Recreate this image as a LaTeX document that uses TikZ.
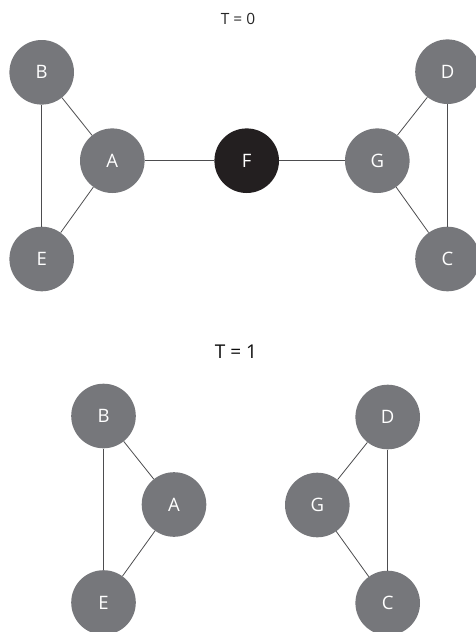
\documentclass[tikz,border=0pt]{standalone}
\usepackage{fontspec}
\setmainfont{Open Sans}
\definecolor{nodegray}{HTML}{76777B}
\definecolor{nodeblack}{HTML}{231F20}
\definecolor{linegray}{HTML}{4D4D4F}
\begin{document}
\begin{tikzpicture}[x=1pt,y=-1pt,
  vtx/.style={circle,fill=nodegray,minimum size=64.6pt,inner sep=0pt,text=white,font=\fontsize{18.5}{18.5}\selectfont},
  hub/.style={vtx,fill=nodeblack},
  edge/.style={draw=linegray,line width=0.8pt}]
\useasboundingbox (0,0) rectangle (476,632);
\node[font=\fontsize{15.5}{15.5}\selectfont,text=black!85] (t0) at (238,19) {T = 0};
\node (B0) [vtx] at (41.7,72.3) {B};
\node (A0) [vtx] at (112.3,160.7) {A};
\node (E0) [vtx] at (41.7,259) {E};
\node (F0) [hub] at (246.7,160.7) {F};
\node (G0) [vtx] at (377.3,160.7) {G};
\node (D0) [vtx] at (447.5,71.7) {D};
\node (C0) [vtx] at (447.5,259) {C};
\draw[edge] (B0) -- (A0);
\draw[edge] (B0) -- (E0);
\draw[edge] (A0) -- (E0);
\draw[edge] (A0) -- (F0);
\draw[edge] (F0) -- (G0);
\draw[edge] (G0) -- (D0);
\draw[edge] (G0) -- (C0);
\draw[edge] (D0) -- (C0);
\node[font=\fontsize{19}{19}\selectfont,text=black!95] (t1) at (236,352) {T = 1};
\node (B1) [vtx] at (103.5,416) {B};
\node (A1) [vtx] at (174,504.5) {A};
\node (E1) [vtx] at (103.5,602.5) {E};
\node (D1) [vtx] at (387.7,417) {D};
\node (G1) [vtx] at (317.3,505) {G};
\node (C1) [vtx] at (387.7,603) {C};
\draw[edge] (B1) -- (A1);
\draw[edge] (B1) -- (E1);
\draw[edge] (A1) -- (E1);
\draw[edge] (D1) -- (G1);
\draw[edge] (G1) -- (C1);
\draw[edge] (D1) -- (C1);
\end{tikzpicture}
\end{document}
